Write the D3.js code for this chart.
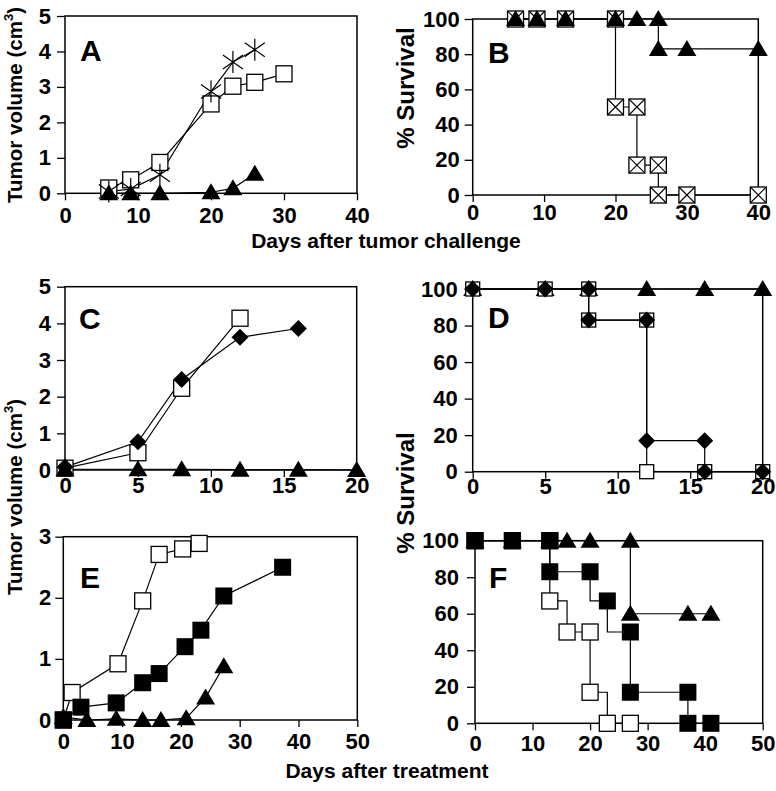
<!DOCTYPE html>
<html>
<head>
<meta charset="utf-8">
<script src="https://cdn.jsdelivr.net/npm/d3@7"></script>
<style>
  body { margin: 0; background: #fff; }
  svg text { font-family: "Liberation Sans", Arial, Helvetica, sans-serif; font-weight: bold; fill: #000; }
</style>
</head>
<body>
<svg id="chart" width="776" height="791"></svg>
<script>
// ---- panel A: tumor volume after challenge
const aSquareDays = [6, 9, 13, 20, 23, 26, 30];
const aSquareVol = [0.15, 0.38, 0.87, 2.52, 3.02, 3.13, 3.37];
const aStarDays = [6, 9, 13, 20, 23, 26];
const aStarVol = [0.05, 0.12, 0.52, 2.87, 3.7, 4.05];
const aTriDays = [6, 9, 13, 20, 23, 26];
const aTriVol = [0, 0, 0, 0.03, 0.14, 0.55];

// ---- panel B: survival after challenge
const bBoxDays = [6, 9, 13, 20, 20, 23, 23, 26, 26, 30, 40];
const bBoxSurv = [100, 100, 100, 100, 50, 50, 17, 17, 0, 0, 0];
const bTriDays = [6, 9, 13, 20, 23, 26, 26, 30, 40];
const bTriSurv = [100, 100, 100, 100, 100, 100, 83, 83, 83];

// ---- panel C: tumor volume after treatment
const cSquareDays = [0, 5, 8, 12];
const cSquareVol = [0.05, 0.47, 2.23, 4.14];
const cDiamondDays = [0, 5, 8, 12, 16];
const cDiamondVol = [0.08, 0.77, 2.47, 3.62, 3.86];
const cTriDays = [0, 5, 8, 12, 16, 20];
const cTriVol = [0.02, 0.02, 0.02, 0.01, 0.01, 0];

// ---- panel D: survival after treatment
const dSquareDays = [0, 5, 8, 8, 12, 12, 16, 20];
const dSquareSurv = [100, 100, 100, 83, 83, 0, 0, 0];
const dDiamondDays = [0, 5, 8, 8, 12, 12, 16, 16, 20];
const dDiamondSurv = [100, 100, 100, 83, 83, 17, 17, 0, 0];
const dTriDays = [0, 5, 8, 12, 16, 20];
const dTriSurv = [100, 100, 100, 100, 100, 100];

// ---- panel E: tumor volume after treatment
const eOpenDays = [0, 1.5, 9.3, 13.5, 16.3, 20.3, 23.1];
const eOpenVol = [0, 0.45, 0.92, 1.95, 2.71, 2.8, 2.89];
const eFilledDays = [0, 3, 9, 13.5, 16.3, 20.7, 23.4, 27.3, 37.3];
const eFilledVol = [0, 0.21, 0.28, 0.61, 0.76, 1.2, 1.47, 2.03, 2.5];
const eTriDays = [0, 4, 9, 13.5, 16.6, 20.9, 24.2, 27.3];
const eTriVol = [0.05, 0, 0.02, 0, 0, 0.03, 0.37, 0.88];

// ---- panel F: survival after treatment
const fOpenDays = [0, 6.5, 13, 13, 16, 20, 20, 23, 27];
const fOpenSurv = [100, 100, 100, 67, 50, 50, 17, 0, 0];
const fFilledDays = [0, 6.5, 13, 13, 20, 23, 27, 27, 37, 37, 41];
const fFilledSurv = [100, 100, 100, 83, 83, 67, 50, 17, 17, 0, 0];
const fTriDays = [0, 6.5, 13, 16, 20, 27, 27, 37, 41];
const fTriSurv = [100, 100, 100, 100, 100, 100, 60, 60, 60];

// tick labels
const ticksDays40 = [0, 10, 20, 30, 40];
const ticksDays20 = [0, 5, 10, 15, 20];
const ticksDays50 = [0, 10, 20, 30, 40, 50];
const ticksVol5 = [0, 1, 2, 3, 4, 5];
const ticksVol3 = [0, 1, 2, 3];
const ticksSurv = [0, 20, 40, 60, 80, 100];

const zip = (xs, ys) => xs.map((d, i) => [d, ys[i]]);

const svg = d3.select('#chart');
const FS = 21;      // axis titles
const TICK_FS = 22; // tick labels

function marker(g, type) {
  if (type === 'openSquare' || type === 'boxX') {
    g.append('rect').attr('x', -8).attr('y', -8).attr('width', 16).attr('height', 16)
      .attr('fill', '#fff').attr('stroke', '#000').attr('stroke-width', 1.3);
    if (type === 'boxX') {
      g.append('path').attr('d', 'M-8,-8L8,8M8,-8L-8,8').attr('stroke', '#000').attr('stroke-width', 1.1);
    }
  } else if (type === 'smallSquare') {
    g.append('rect').attr('x', -7).attr('y', -7).attr('width', 14).attr('height', 14)
      .attr('fill', '#fff').attr('stroke', '#000').attr('stroke-width', 1.3);
  } else if (type === 'filledSquare') {
    g.append('rect').attr('x', -8.5).attr('y', -8.5).attr('width', 17).attr('height', 17).attr('fill', '#000');
  } else if (type === 'triangle') {
    g.append('path').attr('d', 'M0,-9L9.5,7L-9.5,7Z').attr('fill', '#000');
  } else if (type === 'diamond') {
    g.append('path').attr('d', 'M0,-8.5L8.5,0L0,8.5L-8.5,0Z').attr('fill', '#000');
  } else if (type === 'star') {
    g.append('path').attr('d', 'M0,-11L0,11M-10,-7L10,7M-10,7L10,-7')
      .attr('stroke', '#000').attr('stroke-width', 1.2).attr('fill', 'none');
  }
}

function drawPanel(p) {
  const x = d3.scaleLinear().domain([0, p.xMax]).range([p.left, p.right]);
  const y = d3.scaleLinear().domain([0, p.yMax]).range([p.bottom, p.top]);
  const g = svg.append('g');

  // frame
  g.append('rect').attr('x', p.left).attr('y', p.top)
    .attr('width', p.right - p.left).attr('height', p.bottom - p.top)
    .attr('fill', 'none').attr('stroke', '#000').attr('stroke-width', 1.5);

  const xa = g.append('g').attr('transform', `translate(0,${p.bottom})`)
    .call(d3.axisBottom(x).tickValues(p.xTicks).tickFormat(d3.format('d')).tickSize(7).tickPadding(p.xPad));
  const ya = g.append('g').attr('transform', `translate(${p.left},0)`)
    .call(d3.axisLeft(y).tickValues(p.yTicks).tickFormat(d3.format('d')).tickSize(8).tickPadding(p.yPad));
  [xa, ya].forEach(a => {
    a.select('.domain').remove();
    a.selectAll('line').attr('stroke', '#000').attr('stroke-width', 1.3);
    a.selectAll('text').attr('font-size', TICK_FS).attr('font-family', null).attr('fill', '#000');
  });

  // series: lines first, then markers in the given order
  const line = d3.line().x(d => x(d[0])).y(d => y(d[1]));
  p.series.forEach(s => {
    g.append('path').datum(s.pts).attr('d', line.curve(s.curve || d3.curveLinear))
      .attr('fill', 'none').attr('stroke', '#000').attr('stroke-width', 1.2);
  });
  p.series.forEach(s => {
    g.append('g').selectAll('g').data(s.pts).join('g')
      .attr('transform', d => `translate(${x(d[0])},${y(d[1])})`)
      .each(function () { marker(d3.select(this), s.type); });
  });

  g.append('text').attr('x', p.letterX).attr('y', p.letterY)
    .attr('font-size', 30).text(p.letter);
}

drawPanel({
  letter: 'A', letterX: 80, letterY: 61,
  left: 65, right: 357, top: 16, bottom: 193.3, xMax: 40, yMax: 5,
  xTicks: ticksDays40, yTicks: ticksVol5, xPad: 7, yPad: 6,
  series: [
    { pts: zip(aSquareDays, aSquareVol), type: 'openSquare' },
    { pts: zip(aStarDays, aStarVol), type: 'star' },
    { pts: zip(aTriDays, aTriVol), type: 'triangle' }
  ]
});

drawPanel({
  letter: 'B', letterX: 488, letterY: 63,
  left: 472.7, right: 758.3, top: 19, bottom: 195, xMax: 40, yMax: 100,
  xTicks: ticksDays40, yTicks: ticksSurv, xPad: 2, yPad: 5,
  series: [
    { pts: zip(bBoxDays, bBoxSurv), type: 'boxX' },
    { pts: zip(bTriDays, bTriSurv), type: 'triangle' }
  ]
});

drawPanel({
  letter: 'C', letterX: 79, letterY: 329,
  left: 65, right: 356.7, top: 286.7, bottom: 470, xMax: 20, yMax: 5,
  xTicks: ticksDays20, yTicks: ticksVol5, xPad: 0, yPad: 6,
  series: [
    { pts: zip(cSquareDays, cSquareVol), type: 'openSquare' },
    { pts: zip(cDiamondDays, cDiamondVol), type: 'diamond' },
    { pts: zip(cTriDays, cTriVol), type: 'triangle' }
  ]
});

drawPanel({
  letter: 'D', letterX: 488, letterY: 328,
  left: 472.7, right: 762.7, top: 289, bottom: 471.7, xMax: 20, yMax: 100,
  xTicks: ticksDays20, yTicks: ticksSurv, xPad: 0, yPad: 7,
  series: [
    { pts: zip(dTriDays, dTriSurv), type: 'triangle' },
    { pts: zip(dSquareDays, dSquareSurv), type: 'smallSquare' },
    { pts: zip(dDiamondDays, dDiamondSurv), type: 'diamond' }
  ]
});

drawPanel({
  letter: 'E', letterX: 80, letterY: 588,
  left: 63.3, right: 357.3, top: 536.7, bottom: 720, xMax: 50, yMax: 3,
  xTicks: ticksDays50, yTicks: ticksVol3, xPad: 6, yPad: 4,
  series: [
    { pts: zip(eOpenDays, eOpenVol), type: 'openSquare' },
    { pts: zip(eFilledDays, eFilledVol), type: 'filledSquare' },
    { pts: zip(eTriDays, eTriVol), type: 'triangle' }
  ]
});

drawPanel({
  letter: 'F', letterX: 489, letterY: 588,
  left: 475, right: 762.7, top: 540.7, bottom: 723.3, xMax: 50, yMax: 100,
  xTicks: ticksDays50, yTicks: ticksSurv, xPad: 5, yPad: 8,
  series: [
    { pts: zip(fOpenDays, fOpenSurv), type: 'openSquare', curve: d3.curveStepAfter },
    { pts: zip(fTriDays, fTriSurv), type: 'triangle' },
    { pts: zip(fFilledDays, fFilledSurv), type: 'filledSquare', curve: d3.curveStepBefore }
  ]
});

// axis titles
function volTitle(cx, cy) {
  const t = svg.append('text').attr('transform', `translate(${cx},${cy}) rotate(-90)`)
    .attr('text-anchor', 'middle').attr('dominant-baseline', 'central').attr('font-size', 20.5);
  t.append('tspan').text('Tumor volume (cm');
  t.append('tspan').attr('font-size', 13).attr('dy', -6).text('3');
  t.append('tspan').attr('dy', 6).text(')');
}
function survTitle(cx, cy) {
  svg.append('text').attr('transform', `translate(${cx},${cy}) rotate(-90)`)
    .attr('text-anchor', 'middle').attr('dominant-baseline', 'central')
    .attr('font-size', 24).text('% Survival');
}
volTitle(14, 105);
volTitle(14, 497);
survTitle(405, 88);
survTitle(405, 493);

svg.append('text').attr('x', 386).attr('y', 248).attr('text-anchor', 'middle')
  .attr('font-size', FS).text('Days after tumor challenge');
svg.append('text').attr('x', 387).attr('y', 778).attr('text-anchor', 'middle')
  .attr('font-size', FS).text('Days after treatment');
</script>
</body>
</html>
